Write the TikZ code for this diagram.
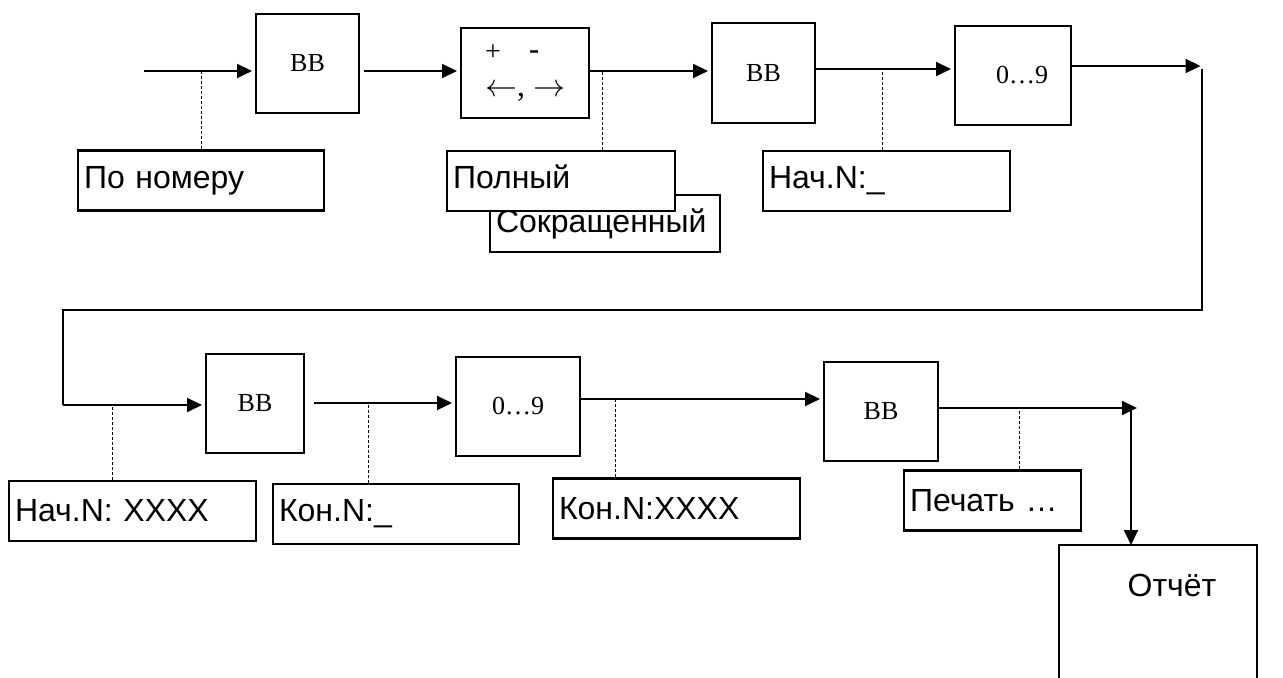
\RequirePackage{fix-cm}
\documentclass[tikz,border=0pt]{standalone}
\usepackage{fontspec}
\setmainfont{Liberation Sans}
\newfontfamily\tnr{Liberation Serif}
\usetikzlibrary{arrows.meta}

\begin{document}
\begin{tikzpicture}[x=0.5pt, y=-0.5pt,
    op/.style 2 args={draw, line width=1pt, fill=white, inner sep=0pt,
      minimum width=#1, minimum height=#2, font=\tnr\fontsize{13pt}{15pt}\selectfont},
    txt/.style={draw, line width=1.4pt, fill=white, inner sep=3pt, align=left,
      text width=#1, minimum height=30pt, font=\fontsize{16pt}{18pt}\selectfont},
    flow/.style={line width=1pt, shorten >=1.5pt, -{Triangle[length=7.5pt, width=7pt]}},
    wire/.style={line width=1.1pt},
    hint/.style={line width=0.5pt, dash pattern=on 1.5pt off 1pt}]
  \useasboundingbox (0,0) rectangle (1283,678);

  % first row
  \node[op={51.5pt}{49.5pt}] (bb1) at (307.5,63.5) {ВВ};
  \node[op={64pt}{45pt}, align=left] (move) at (525,73)
    {{\fontsize{14pt}{14pt}\selectfont +}\hspace{14pt}{\normalfont\fontsize{16pt}{16pt}\selectfont -}\\[3pt]
     {\fontsize{16pt}{16pt}\selectfont$\leftarrow$, $\rightarrow$}};
  \node[op={51.5pt}{50pt}] (bb2) at (763.5,73) {ВВ};
  \node[op={58pt}{49.5pt}] (dig1) at (1013,75.5) {\hspace{9pt}0…9};

  \node[txt=117pt] (bynum) at (201,180.5) {По номеру};
  \node[txt=109pt, minimum height=28.5pt] (short) at (605,223.5) {\raisebox{-2pt}{Сокращенный}};
  \node[txt=108pt] (full) at (561,181) {\raisebox{4pt}{Полный}};
  \node[txt=117.5pt] (startN) at (886.5,181) {Нач.N:\_};

  \coordinate (in) at (144,71);
  \coordinate (r1) at (0,71);
  \coordinate (r1b) at (0,69);
  \coordinate (turn) at (1203.5,66);
  \draw[flow] (in) -- (bb1.west |- in);
  \draw[flow] ([xshift=2pt]bb1.east |- r1) -- (move.west |- r1);
  \draw[flow] (move.east |- r1) -- (bb2.west |- r1);
  \draw[flow] (bb2.east |- r1b) -- (dig1.west |- r1b);
  \draw[flow] (dig1.east |- turn) -- (turn);

  \draw[hint] (bynum.north) -- (bynum.north |- r1);
  \draw[hint] ([xshift=20.5pt]full.north) -- ([xshift=20.5pt]full.north |- r1);
  \draw[hint] ([xshift=-2pt]startN.north) -- ([xshift=-2pt]startN.north |- r1b);

  % way back
  \coordinate (back) at (63,405);
  \coordinate (r2top) at (0,310);
  \draw[wire] (1202,69) -- (1202,310) -- (back |- r2top) -- (back);

  % second row
  \node[op={49pt}{49.5pt}] (bb3) at (255,403.5) {ВВ};
  \node[op={62pt}{49.5pt}] (dig2) at (518,406.5) {0…9};
  \node[op={57pt}{49.5pt}] (bb4) at (881,411.5) {ВВ};

  \node[txt=117.5pt] (startX) at (132.5,511) {Нач.N: XXXX};
  \node[txt=117pt] (endN) at (396,514) {Кон.N:\_};
  \node[txt=117.5pt] (endX) at (676.5,508.5) {Кон.N:XXXX};
  \node[txt=82.5pt] (print) at (992.5,500.5) {Печать …};

  \node[minimum width=98.5pt, minimum height=66.5pt, inner sep=0pt, anchor=north west] (report) at (1059,545) {};
  \draw[line width=1pt] (report.south west) -- (report.north west) -- (report.north east) -- (report.south east);
  \node[font=\fontsize{16pt}{18pt}\selectfont] (reportname) at (1172,585) {Отчёт};

  \coordinate (r2b) at (0,403);
  \coordinate (r2c) at (0,399);
  \coordinate (out) at (1140,408);
  \draw[flow] (back) -- (bb3.west |- back);
  \draw[flow] ([xshift=4.5pt]bb3.east |- r2b) -- (dig2.west |- r2b);
  \draw[flow] (dig2.east |- r2c) -- (bb4.west |- r2c);
  \draw[flow] (bb4.east |- out) -- (out);
  \draw[flow, shorten >=0pt] (1131,408) -- (1131,408 |- report.north);

  \draw[hint] ([xshift=-10.25pt]startX.north) -- ([xshift=-10.25pt]startX.north |- back);
  \draw[hint] ([xshift=-14pt]endN.north) -- ([xshift=-14pt]endN.north |- r2b);
  \draw[hint] ([xshift=-30.75pt]endX.north) -- ([xshift=-30.75pt]endX.north |- r2c);
  \draw[hint] ([xshift=13.25pt]print.north) -- ([xshift=13.25pt]print.north |- out);
\end{tikzpicture}
\end{document}
